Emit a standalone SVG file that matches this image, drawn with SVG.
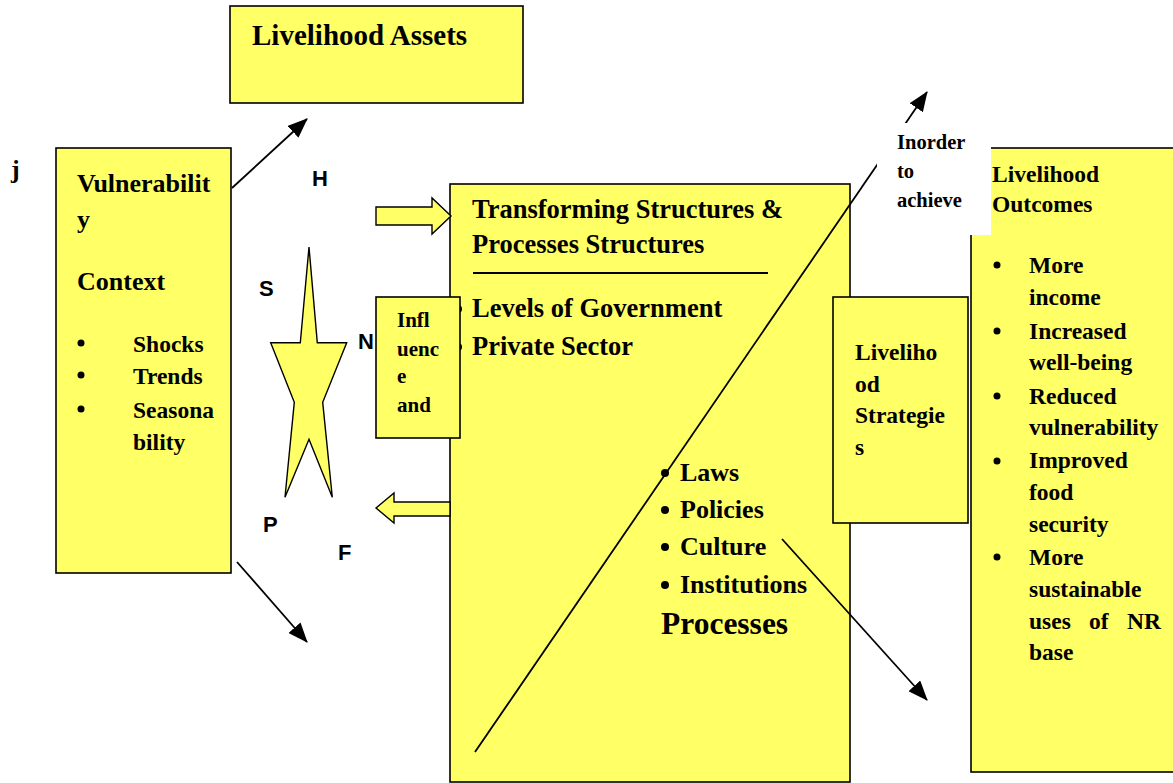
<svg xmlns="http://www.w3.org/2000/svg" width="1173" height="783" viewBox="0 0 1173 783">
<defs>
<style>
.box{fill:#FFFF66;stroke:#000;stroke-width:1.6}
.t{font-family:"Liberation Serif","Times New Roman",serif;font-weight:bold;fill:#000}
.s{font-family:"Liberation Sans",Arial,sans-serif;font-weight:bold;fill:#000;font-size:22px}
.ln{stroke:#000;stroke-width:1.8;fill:none}
.blk{fill:#FFFF66;stroke:#000;stroke-width:1.4}
</style>
<marker id="ah" markerUnits="userSpaceOnUse" markerWidth="20" markerHeight="16" viewBox="0 0 20 16" refX="19" refY="8" orient="auto">
<path d="M0,0 L20,8 L0,16 Z" fill="#000"/>
</marker>
</defs>
<rect width="1173" height="783" fill="#fff"/>

<g id="assets">
<rect class="box" x="230" y="6" width="293" height="97"/>
<text class="t" x="252" y="45" font-size="29">Livelihood Assets</text>
</g>

<text class="t" x="11" y="178" font-size="26">j</text>

<g id="vulnerability">
<rect class="box" x="56" y="148" width="175" height="425"/>
<g class="t" font-size="26">
<text x="77" y="192">Vulnerabilit</text>
<text x="77" y="228">y</text>
<text x="77" y="290">Context</text>
</g>
<g fill="#000">
<circle cx="81" cy="343" r="3.5"/>
<circle cx="81" cy="375" r="3.5"/>
<circle cx="81" cy="409" r="3.5"/>
</g>
<g class="t" font-size="23.5">
<text x="133" y="352">Shocks</text>
<text x="133" y="384">Trends</text>
<text x="133" y="418">Seasona</text>
<text x="133" y="450">bility</text>
</g>
</g>

<g id="hsnpf">
<polygon class="blk" points="309,247 317.3,342.7 346.7,342.7 322.7,402.3 332.3,497.3 309,439.3 285,497.3 294.3,402.3 270.7,342.7 300.3,342.7"/>
<text class="s" x="312" y="186">H</text>
<text class="s" x="259" y="296">S</text>
<text class="s" x="358" y="349">N</text>
<text class="s" x="263" y="532">P</text>
<text class="s" x="338" y="560">F</text>
</g>

<g id="transforming">
<rect class="box" x="450" y="184" width="400" height="598"/>
<g class="t" font-size="26.5">
<text x="472" y="218">Transforming Structures &amp;</text>
<text x="472" y="253">Processes Structures</text>
</g>
<line x1="473" y1="273" x2="768" y2="273" stroke="#000" stroke-width="2"/>
<g fill="#000">
<circle cx="458" cy="309" r="4"/>
<circle cx="458" cy="347" r="4"/>
<circle cx="665" cy="473" r="4"/>
<circle cx="665" cy="510" r="4"/>
<circle cx="665" cy="547" r="4"/>
<circle cx="665" cy="585" r="4"/>
</g>
<g class="t" font-size="26.5">
<text x="472" y="317">Levels of Government</text>
<text x="472" y="355">Private Sector</text>
</g>
<g class="t" font-size="26">
<text x="680" y="481">Laws</text>
<text x="680" y="518">Policies</text>
<text x="680" y="555">Culture</text>
<text x="680" y="593">Institutions</text>
</g>
<text class="t" x="661" y="634" font-size="31.5">Processes</text>
</g>

<g id="influence">
<rect class="box" x="376" y="297" width="84" height="141"/>
<g class="t" font-size="21">
<text x="397" y="327">Infl</text>
<text x="397" y="356">uenc</text>
<text x="397" y="383">e</text>
<text x="397" y="412">and</text>
</g>
</g>

<g id="strategies">
<rect class="box" x="833" y="297" width="135" height="226"/>
<g class="t" font-size="23.5">
<text x="855" y="360">Liveliho</text>
<text x="855" y="392">od</text>
<text x="855" y="423">Strategie</text>
<text x="855" y="455">s</text>
</g>
</g>

<g id="outcomes">
<rect class="box" x="971" y="148" width="215" height="624"/>
<g class="t" font-size="23.5">
<text x="992" y="182">Livelihood</text>
<text x="992" y="212">Outcomes</text>
</g>
<g fill="#000">
<circle cx="997" cy="265" r="3.5"/>
<circle cx="997" cy="331" r="3.5"/>
<circle cx="997" cy="396" r="3.5"/>
<circle cx="997" cy="461" r="3.5"/>
<circle cx="997" cy="557" r="3.5"/>
</g>
<g class="t" font-size="23.5">
<text x="1029" y="273">More</text>
<text x="1029" y="305">income</text>
<text x="1029" y="339">Increased</text>
<text x="1029" y="370">well-being</text>
<text x="1029" y="404">Reduced</text>
<text x="1029" y="435">vulnerability</text>
<text x="1029" y="468">Improved</text>
<text x="1029" y="500">food</text>
<text x="1029" y="532">security</text>
<text x="1029" y="565">More</text>
<text x="1029" y="597">sustainable</text>
<text y="629"><tspan x="1029">uses</tspan><tspan x="1089">of</tspan><tspan x="1127">NR</tspan></text>
<text x="1029" y="660">base</text>
</g>
</g>

<g id="connectors">
<line class="ln" x1="232" y1="188" x2="307" y2="119" marker-end="url(#ah)"/>
<line class="ln" x1="237" y1="562" x2="307" y2="642" marker-end="url(#ah)"/>
<line class="ln" x1="782" y1="539" x2="927" y2="700" marker-end="url(#ah)"/>
<line class="ln" x1="475" y1="752" x2="927" y2="92" marker-end="url(#ah)"/>
<polygon class="blk" points="376,207 432,207 432,198 451,216 432,234 432,225 376,225"/>
<polygon class="blk" points="450,502 394,502 394,493 376,508 394,523 394,516 450,516"/>
</g>

<g id="inorder">
<rect x="877" y="123" width="114" height="112" fill="#fff"/>
<g class="t" font-size="20.5">
<text x="897" y="149">Inorder</text>
<text x="897" y="178">to</text>
<text x="897" y="207">achieve</text>
</g>
</g>
</svg>
